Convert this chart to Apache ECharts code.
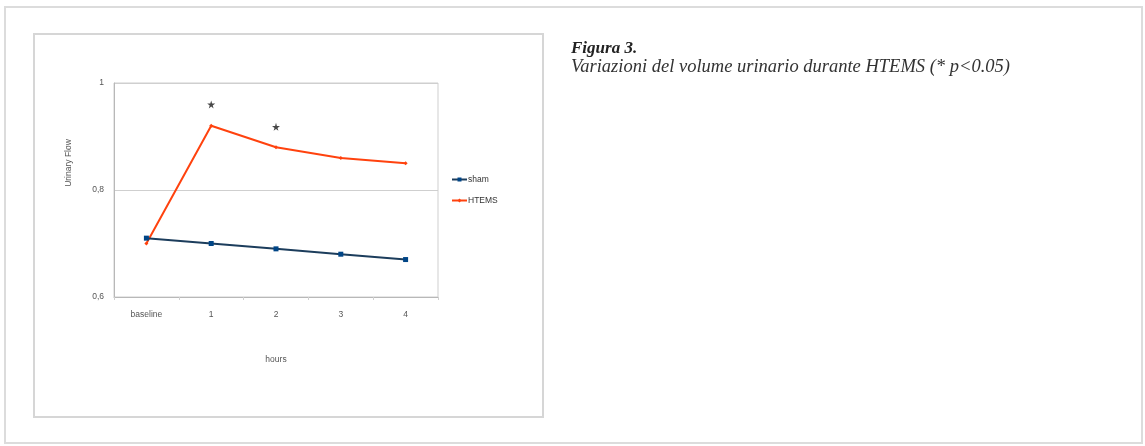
<!DOCTYPE html>
<html>
<head>
<meta charset="utf-8">
<title>Figura 3</title>
<script src="https://cdn.jsdelivr.net/npm/echarts@6/dist/echarts.min.js"></script>
<style>
  html, body { margin: 0; padding: 0; background: #fff; }
  #chart { width: 1145px; height: 446px; }
</style>
</head>
<body>
<div id="chart"></div>
<script>
// data
var hours = ['baseline', '1', '2', '3', '4'];
var sham = [0.71, 0.70, 0.69, 0.68, 0.67];
var htems = [0.70, 0.92, 0.88, 0.86, 0.85];
// where the significance stars sit (p<0.05)
var stars = [null, 0.96, 0.918, null, null];
var yTicks = { min: 0.6, max: 1, step: 0.2 };

var starPath = 'path://M50,0 L61,35 L98,35 L68,57 L79,91 L50,70 L21,91 L32,57 L2,35 L39,35 Z';
var axisFont = 'Liberation Sans, Arial, sans-serif';

var myChart = echarts.init(document.getElementById('chart'));
var option = {
  animation: false,
  backgroundColor: '#fff',
  title: {
    text: 'Figura 3.',
    subtext: 'Variazioni del volume urinario durante HTEMS (* p<0.05)',
    left: 571,
    top: 40,
    itemGap: 1,
    padding: 0,
    textStyle: {
      fontFamily: 'Liberation Serif, serif',
      fontStyle: 'italic',
      fontWeight: 'bold',
      fontSize: 17,
      color: '#222'
    },
    subtextStyle: {
      fontFamily: 'Liberation Serif, serif',
      fontStyle: 'italic',
      fontSize: 18.5,
      color: '#333'
    }
  },
  graphic: [
    { type: 'rect', shape: { x: 5, y: 7, width: 1137, height: 436 },
      style: { fill: 'none', stroke: '#dcdcdc', lineWidth: 2 }, z: -1 },
    { type: 'rect', shape: { x: 34, y: 34, width: 509, height: 383 },
      style: { fill: 'none', stroke: '#d6d6d6', lineWidth: 2 }, z: -1 },
    { type: 'text', x: 69, y: 163, rotation: Math.PI / 2,
      style: { text: 'Urinary Flow', font: '8.5px ' + axisFont, fill: '#555',
        align: 'center', verticalAlign: 'middle' } }
  ],
  legend: {
    orient: 'vertical',
    left: 446,
    top: 170,
    itemWidth: 15,
    itemHeight: 5,
    itemGap: 12,
    data: ['sham', 'HTEMS'],
    textStyle: { fontFamily: axisFont, fontSize: 8.5, color: '#333', padding: [0, 0, 0, -4] }
  },
  grid: {
    left: 114,
    right: 707,
    top: 83,
    bottom: 149,
    show: true,
    borderColor: '#cfcfcf',
    borderWidth: 1
  },
  xAxis: {
    type: 'category',
    data: hours,
    boundaryGap: true,
    name: 'hours',
    nameLocation: 'middle',
    nameGap: 58,
    nameTextStyle: { fontFamily: axisFont, fontSize: 8.5, color: '#555' },
    axisLine: { lineStyle: { color: '#b8b8b8', width: 1 } },
    axisTick: { show: true, length: 3, lineStyle: { color: '#d0d0d0' } },
    axisLabel: { fontFamily: axisFont, fontSize: 8.5, color: '#555', margin: 13 }
  },
  yAxis: {
    type: 'value',
    min: yTicks.min,
    max: yTicks.max,
    interval: yTicks.step,
    axisLine: { show: true, lineStyle: { color: '#b8b8b8', width: 1 } },
    axisTick: { show: false },
    splitLine: { show: true, lineStyle: { color: '#cfcfcf', width: 1 } },
    axisLabel: {
      fontFamily: axisFont, fontSize: 8.5, color: '#555', margin: 10,
      formatter: function (v) { return String(Math.round(v * 10) / 10).replace('.', ','); }
    }
  },
  series: [
    {
      name: 'sham',
      type: 'line',
      data: sham,
      symbol: 'rect',
      symbolSize: 5,
      showAllSymbol: true,
      color: '#004586',
      lineStyle: { color: '#1c3d5c', width: 2 },
      itemStyle: { color: '#004586' },
      z: 3
    },
    {
      name: 'HTEMS',
      type: 'line',
      data: htems,
      symbol: 'diamond',
      symbolSize: 4,
      showAllSymbol: true,
      color: '#ff420e',
      lineStyle: { color: '#ff420e', width: 2 },
      itemStyle: { color: '#ff420e' },
      z: 2
    },
    {
      name: 'stars',
      type: 'scatter',
      data: stars,
      symbol: starPath,
      symbolSize: 8,
      itemStyle: { color: '#1a1a1a' },
      silent: true
    }
  ]
};
myChart.setOption(option);
</script>
</body>
</html>
